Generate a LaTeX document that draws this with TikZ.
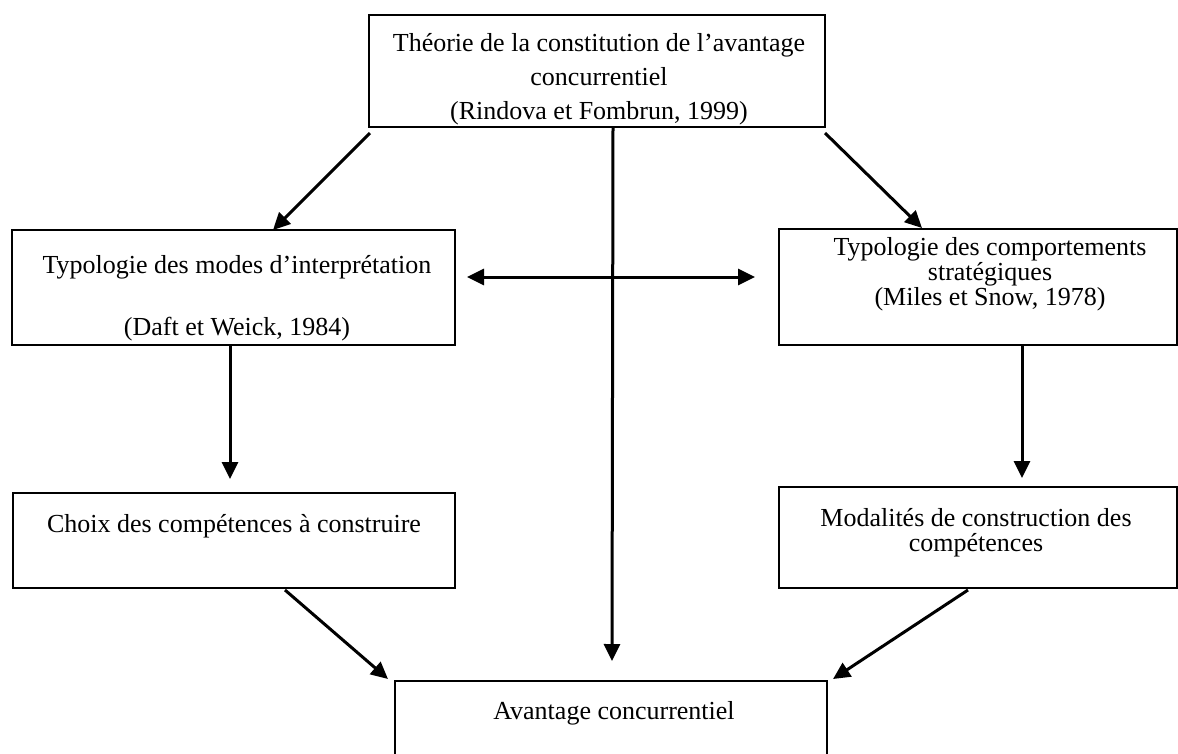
\documentclass[tikz,border=0pt]{standalone}
\usepackage{fontspec}
\setmainfont{Liberation Serif}
\usetikzlibrary{arrows.meta}
\begin{document}
\begin{tikzpicture}[x=1pt,y=-1pt,
  box/.style={draw, line width=2.2pt, inner sep=0pt},
  lbl/.style={align=center, anchor=north, inner sep=0pt},
  wide/.style={font=\fontsize{26}{31}\selectfont},
  loose/.style={font=\fontsize{26}{34}\selectfont},
  tight/.style={font=\fontsize{26}{25}\selectfont},
  tip/.style={Triangle[length=17pt,width=16pt]},
  link/.style={line width=3pt, -{Triangle[length=17pt,width=16pt]}},
  both/.style={line width=3pt, {Triangle[length=17pt,width=16pt]}-{Triangle[length=17pt,width=16pt]}},
]
\useasboundingbox (0,0) rectangle (1178,753);

% frames
\node[box, minimum width=456pt, minimum height=112pt] (theory) at (597,71) {};
\node[box, minimum width=443pt, minimum height=115pt] (interp) at (233.5,287.5) {};
\node[box, minimum width=398pt, minimum height=116pt] (strat) at (978,287) {};
\node[box, minimum width=442pt, minimum height=95pt] (choice) at (234,540.5) {};
\node[box, minimum width=398pt, minimum height=101pt] (modal) at (978,537.5) {};
\node[box, minimum width=432pt, minimum height=110pt] (adv) at (611,736) {};

% texts
\node[lbl, loose] (theoryT) at (599,33) {Théorie de la constitution de l’avantage\\concurrentiel\\(Rindova et Fombrun, 1999)};
\node[lbl, wide] (interpT) at (237,255) {Typologie des modes d’interprétation\\[31pt](Daft et Weick, 1984)};
\node[lbl, tight] (stratT) at (990,237) {Typologie des comportements\\stratégiques\\(Miles et Snow, 1978)};
\node[lbl, wide] (choiceT) at (234,514) {Choix des compétences à construire};
\node[lbl, tight] (modalT) at (976,508) {Modalités de construction des\\compétences};
\node[lbl, wide] (advT) at (614,701) {Avantage concurrentiel};

% connectors
\coordinate (tl) at (370,133);
\coordinate (tr) at (825,133);
\coordinate (tc) at (613,127);
\coordinate (hl) at (467,277);
\coordinate (hr) at (755,277);
\coordinate (il) at (230,345);
\coordinate (sl) at (1022,345);
\coordinate (cl) at (285,590);
\coordinate (ml) at (968,590);

\draw[link] (tl) -- (273,230) coordinate (interpIn);
\draw[link] (tr) -- (922,228) coordinate (stratIn);
\draw[link] (tc) -- (612,661) coordinate (advTop);
\draw[both] (hl) -- (hr);
\draw[link] (il) -- (230,479) coordinate (choiceIn);
\draw[link] (sl) -- (1022,478) coordinate (modalIn);
\draw[link] (cl) -- (388,679) coordinate (advL);
\draw[link] (ml) -- (833,679) coordinate (advR);
\end{tikzpicture}
\end{document}
